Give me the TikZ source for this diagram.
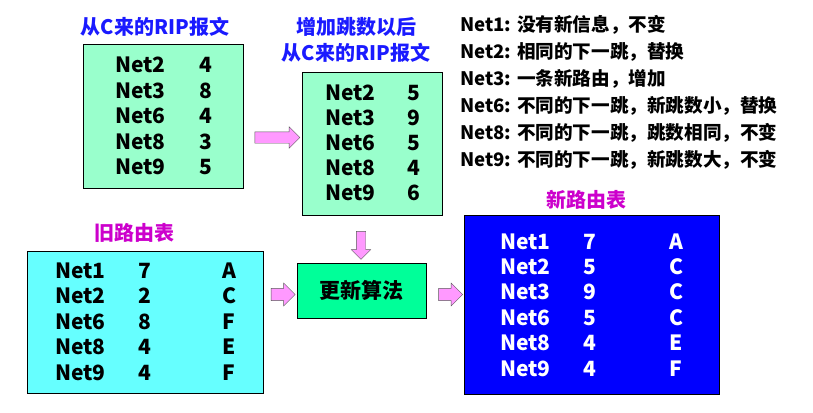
\documentclass[tikz,border=0pt]{standalone}
\usepackage{fontspec}
\setmainfont{Noto Sans CJK SC}
\usetikzlibrary{shapes.arrows, positioning}
\definecolor{mintfill}{RGB}{153,255,204}
\definecolor{cyanfill}{RGB}{102,255,255}
\definecolor{algofill}{RGB}{0,255,153}
\definecolor{newfill}{RGB}{0,0,255}
\definecolor{titleblue}{RGB}{26,26,255}
\definecolor{titlemag}{RGB}{204,0,204}
\definecolor{arrpink}{RGB}{255,153,255}
\begin{document}
\begin{tikzpicture}[x=1pt, y=-1pt,
    box/.style={rectangle, draw=black, line width=1pt, inner sep=0pt},
    cell/.style={font=\fontsize{21}{21}\selectfont\bfseries, inner sep=0pt,
                 text height=15pt, text depth=0pt},
    title/.style={font=\fontsize{20}{26}\selectfont\bfseries, align=center},
    note/.style={font=\fontsize{18.6}{18.6}\selectfont\bfseries, anchor=west,
                 inner sep=0pt},
    blk/.style={single arrow, draw=gray!70!black, fill=arrpink, inner sep=5.5pt,
                single arrow head extend=5pt},
  ]
  \useasboundingbox (0,0) rectangle (813,412);

  % 从C来的RIP报文
  \node[title, text=titleblue] (ripT) at (155,27) {从C来的RIP报文};
  \node[box, fill=mintfill, minimum width=160pt, minimum height=143pt]
    (rip) at (163,116.5) {};
  \foreach \n/\d [count=\i] in {Net2/4, Net3/8, Net6/4, Net8/3, Net9/5} {
    \node[cell, anchor=west] (ripN\i) at (115, 65+25.5*\i-25.5) {\n};
    \node[cell] (ripD\i) at (206, 65+25.5*\i-25.5) {\d};
  }

  % 增加跳数以后
  \node[title, text=titleblue] (incT) at (356,40) {增加跳数以后\\从C来的RIP报文};
  \node[box, fill=mintfill, minimum width=140pt, minimum height=143pt]
    (inc) at (372,143.5) {};
  \foreach \n/\d [count=\i] in {Net2/5, Net3/9, Net6/5, Net8/4, Net9/6} {
    \node[cell, anchor=west] (incN\i) at (325, 93+25*\i-25) {\n};
    \node[cell] (incD\i) at (414, 93+25*\i-25) {\d};
  }

  % 说明
  \foreach \t [count=\i] in {{Net1: 没有新信息，不变},
      {Net2: 相同的下一跳，替换}, {Net3: 一条新路由，增加},
      {Net6: 不同的下一跳，新跳数小，替换},
      {Net8: 不同的下一跳，跳数相同，不变},
      {Net9: 不同的下一跳，新跳数大，不变}}
    \node[note] (note\i) at (460, 25+27*\i-27) {\t};

  % 旧路由表
  \node[title, text=titlemag] (oldT) at (134,233) {旧路由表};
  \node[box, fill=cyanfill, minimum width=236pt, minimum height=142pt]
    (old) at (145,322) {};
  \foreach \n/\d/\r [count=\i] in {Net1/7/A, Net2/2/C, Net6/8/F, Net8/4/E,
      Net9/4/F} {
    \node[cell, anchor=west] (oldN\i) at (55, 271+25.4*\i-25.4) {\n};
    \node[cell] (oldD\i) at (145, 271+25.4*\i-25.4) {\d};
    \node[cell] (oldR\i) at (229, 271+25.4*\i-25.4) {\r};
  }

  % 更新算法
  \node[box, fill=algofill, minimum width=129pt, minimum height=55pt,
        font=\fontsize{21}{21}\selectfont\bfseries] (algo) at (361.5,290.5) {更新算法};

  % 新路由表
  \node[title, text=titlemag] (newT) at (586,200) {新路由表};
  \node[box, fill=newfill, minimum width=255pt, minimum height=179pt]
    (new) at (591.5,304.5) {};
  \foreach \n/\d/\r [count=\i] in {Net1/7/A, Net2/5/C, Net3/9/C, Net6/5/C,
      Net8/4/E, Net9/4/F} {
    \node[cell, anchor=west, text=white] (newN\i) at (500, 241.5+25.4*\i-25.4) {\n};
    \node[cell, text=white] (newD\i) at (590, 241.5+25.4*\i-25.4) {\d};
    \node[cell, text=white] (newR\i) at (676, 241.5+25.4*\i-25.4) {\r};
  }

  % 箭头
  \node[blk, minimum height=45pt, minimum width=21pt] (a1) at (274.5,137.5) {};
  \node[blk, minimum height=28pt, minimum width=18pt, inner sep=4.5pt,
        shape border rotate=270] (a2) at (361,243) {};
  \node[blk, minimum height=24pt, minimum width=23pt] (a3) at (280,294.5) {};
  \node[blk, minimum height=24pt, minimum width=23pt] (a4) at (447.5,294.5) {};
\end{tikzpicture}
\end{document}
